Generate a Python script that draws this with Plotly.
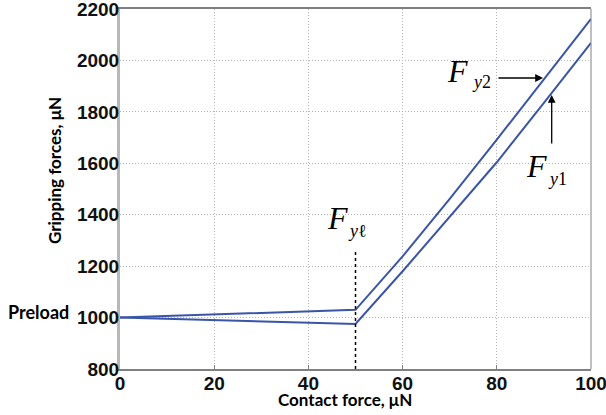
import plotly.graph_objects as go

# Data
contact_force = [0, 50, 60, 70, 80, 90, 100]
fy2 = [1000, 1030, 1238, 1462, 1692, 1928, 2162]
fy1 = [1000, 975, 1180, 1390, 1604, 1835, 2068]
x_ticks = [0, 20, 40, 60, 80, 100]
y_ticks = [800, 1000, 1200, 1400, 1600, 1800, 2000, 2200]
x_range = [0, 100]
y_range = [800, 2200]
transition_x = 50
transition_top = 1265

line_color = "#3a55a8"

W, H = 606, 415
PL, PR, PT, PB = 120, 591, 9, 369


def paper(px, py):
    return (px - PL) / (PR - PL), (PB - py) / (PB - PT)


def data(px, py):
    return (x_range[0] + (px - PL) / (PR - PL) * (x_range[1] - x_range[0]),
            y_range[0] + (PB - py) / (PB - PT) * (y_range[1] - y_range[0]))


fig = go.Figure()
fig.add_trace(go.Scatter(x=contact_force, y=fy2, mode="lines",
                         line=dict(color=line_color, width=2), showlegend=False))
fig.add_trace(go.Scatter(x=contact_force, y=fy1, mode="lines",
                         line=dict(color=line_color, width=2), showlegend=False))

tickfont = dict(family="Liberation Sans, Arial", size=19, color="#111", weight="bold")

fig.update_layout(
    width=W, height=H,
    margin=dict(l=PL, r=W - PR, t=PT, b=H - PB, autoexpand=False),
    plot_bgcolor="white", paper_bgcolor="white",
    xaxis=dict(range=x_range, tickvals=x_ticks, showgrid=True, gridcolor="#b4b4b4",
               griddash="1px,2px", gridwidth=1, zeroline=False, automargin=False,
               showline=True, linecolor="#808080", linewidth=1.5, mirror=True,
               ticks="inside", ticklen=4, tickcolor="#808080",
               tickfont=tickfont, ticklabelstandoff=-4, ticklabeloverflow="allow"),
    yaxis=dict(range=y_range, tickvals=y_ticks, showgrid=True, gridcolor="#b4b4b4",
               griddash="1px,2px", gridwidth=1, zeroline=False, automargin=False,
               showline=True, linecolor="#b8b8b8", linewidth=3, mirror=False,
               ticks="", tickfont=tickfont, ticklabelstandoff=-6, ticklabeloverflow="allow"),
)

# right border
fig.add_shape(type="line", xref="paper", yref="paper", x0=1, x1=1, y0=0, y1=1,
              line=dict(color="#808080", width=1))
# dotted transition line
fig.add_shape(type="line", xref="x", yref="y", x0=transition_x, x1=transition_x,
              y0=y_range[0], y1=transition_top, line=dict(color="black", width=1.5, dash="dot"))

serif = "Liberation Serif, Times New Roman, serif"


def text_at(px, baseline, txt, size, family, weight="normal"):
    x, y = paper(px, baseline - 0.33 * size)
    fig.add_annotation(x=x, y=y, xref="paper", yref="paper", text=txt, showarrow=False,
                       xanchor="left", yanchor="middle", borderpad=0,
                       font=dict(family=family, size=size, color="black", weight=weight))


def flabel(fx, fbase, sx, sbase, sub):
    text_at(fx, fbase, "<i>F</i>", 32, serif)
    text_at(sx, sbase, f"<i>{sub[0]}</i>{sub[1:]}", 18, serif)


flabel(446, 82, 471, 88, "y2")
flabel(525, 177, 547, 185, "y1")
flabel(326, 229, 347, 237, "yℓ")

# arrows
hx, hy = data(543, 78)
tx, ty = data(497, 78)
fig.add_annotation(x=hx, y=hy, ax=tx, ay=ty, xref="x", yref="y", axref="x", ayref="y",
                   showarrow=True, arrowhead=2, arrowsize=1.2, arrowwidth=1.3,
                   arrowcolor="black", text="")
hx, hy = data(551.7, 95)
tx, ty = data(551.7, 145)
fig.add_annotation(x=hx, y=hy, ax=tx, ay=ty, xref="x", yref="y", axref="x", ayref="y",
                   showarrow=True, arrowhead=2, arrowsize=1.2, arrowwidth=1.3,
                   arrowcolor="black", text="")

boldsans = "Lato, Open Sans, sans-serif"
cx, cy = paper(345, 399)
fig.add_annotation(x=cx, y=cy, xref="paper", yref="paper", text="Contact force, μN",
                   showarrow=False, xanchor="center", yanchor="middle", borderpad=0,
                   font=dict(family=boldsans, size=17, color="black", weight="bold"))
gx, gy = paper(55, 171)
fig.add_annotation(x=gx, y=gy, xref="paper", yref="paper", text="Gripping forces, μN",
                   showarrow=False, xanchor="center", yanchor="middle", textangle=-90,
                   borderpad=0,
                   font=dict(family=boldsans, size=17, color="black", weight="bold"))
px_, py_ = paper(38, 312)
fig.add_annotation(x=px_, y=py_, xref="paper", yref="paper", text="Preload",
                   showarrow=False, xanchor="center", yanchor="middle", borderpad=0,
                   font=dict(family=boldsans, size=18, color="black", weight="bold"))

fig.write_html("out.html", config={"displayModeBar": False},
               post_script="document.body.style.margin='0';document.body.style.overflow='hidden';")
